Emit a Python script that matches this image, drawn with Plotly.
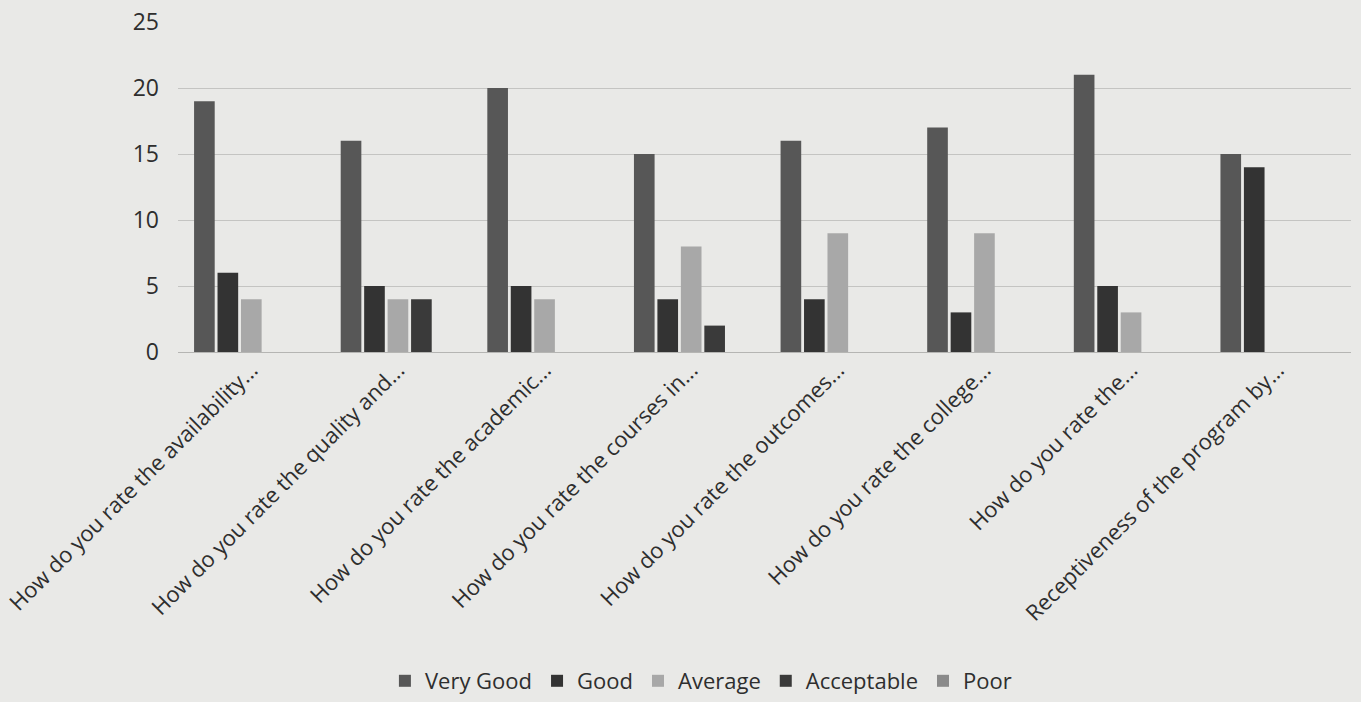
import plotly.graph_objects as go

categories = [
    "How do you rate the availability...",
    "How do you rate the quality and...",
    "How do you rate the academic...",
    "How do you rate the courses in...",
    "How do you rate the outcomes...",
    "How do you rate the college...",
    "How do you rate the...",
    "Receptiveness of the program by...",
]
series_names = ["Very Good", "Good", "Average", "Acceptable", "Poor"]
very_good = [19, 16, 20, 15, 16, 17, 21, 15]
good = [6, 5, 5, 4, 4, 3, 5, 14]
average = [4, 4, 4, 8, 9, 9, 3, 0]
acceptable = [0, 4, 0, 2, 0, 0, 0, 0]
poor = [0, 0, 0, 0, 0, 0, 0, 0]
y_ticks = [0, 5, 10, 15, 20, 25]

series_values = [very_good, good, average, acceptable, poor]
colors = ["#575757", "#333333", "#a8a8a8", "#3a3a3a", "#8a8a8a"]

fig = go.Figure()
for name, vals, col in zip(series_names, series_values, colors):
    fig.add_trace(go.Bar(name=name, x=categories, y=vals, marker_color=col,
                         marker_line_width=0))

bg = "#e9e9e7"
fig.update_layout(
    width=1361, height=702,
    paper_bgcolor=bg, plot_bgcolor=bg,
    barmode="group", bargap=0.2, bargroupgap=0.12,
    margin=dict(l=178, r=10, t=22, b=350),
    font=dict(family="Open Sans", size=22, color="#2e2e2e"),
    legend=dict(orientation="h", xref="container", yref="container",
                x=0.515, xanchor="center", y=0.0, yanchor="bottom",
                font=dict(size=22), itemwidth=30, traceorder="normal"),
    xaxis=dict(tickangle=-45, showgrid=False, showline=False, ticks="",
               tickfont=dict(size=22), automargin=False),
    yaxis=dict(range=[0, 25], tickvals=y_ticks, showgrid=True,
               gridcolor="#c4c4c2", gridwidth=1, zeroline=True,
               zerolinecolor="#b5b5b3", zerolinewidth=1, ticks="",
               tickfont=dict(size=23), ticklabelstandoff=18, automargin=False),
)

fig.write_html(
    "out.html",
    config={"displayModeBar": False},
    post_script="document.body.style.margin='0';document.body.style.background='#e9e9e7';",
)
